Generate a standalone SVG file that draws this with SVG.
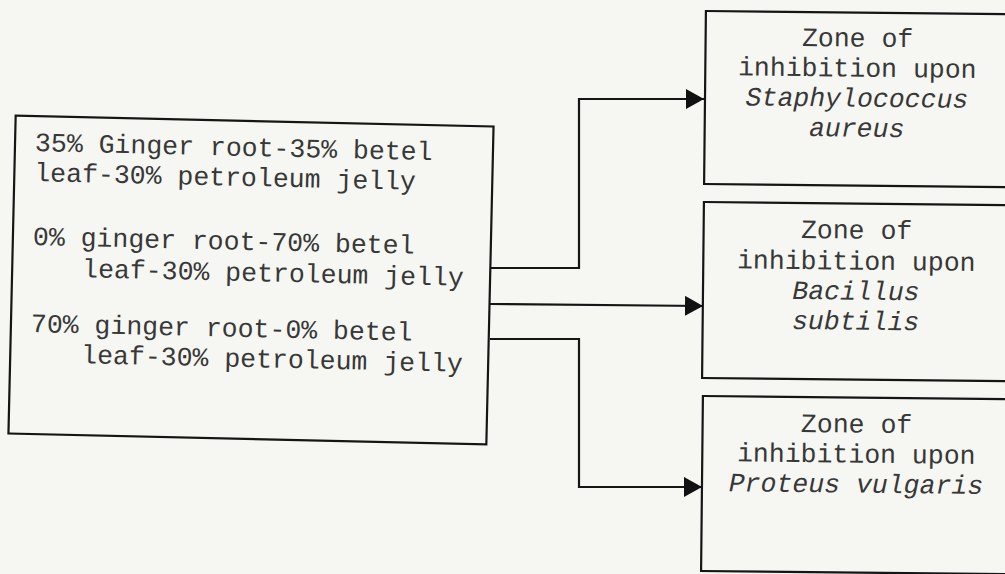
<svg xmlns="http://www.w3.org/2000/svg" width="1005" height="574" viewBox="0 0 1005 574">
  <defs>
    <marker id="arrow" viewBox="0 0 18 20" refX="18" refY="10" markerWidth="18" markerHeight="20" markerUnits="userSpaceOnUse" orient="auto">
      <path d="M0,0 L18,10 L0,20 Z" fill="#111"/>
    </marker>
    <style>
      .box { fill: none; stroke: #151515; stroke-width: 2.2; }
      .conn { fill: none; stroke: #151515; stroke-width: 2.2; }
      .t { font-family: "Liberation Mono", "Courier New", monospace; font-size: 26.5px; fill: #383838; }
      .c { text-anchor: middle; }
      .i { font-style: italic; }
    </style>
  </defs>
  <rect x="0" y="0" width="1005" height="574" fill="#f6f6f2"/>

  <g id="source" transform="rotate(1.3 251 280)">
    <rect class="box" x="12" y="121" width="478" height="318"/>
    <text class="t" x="32" y="156">35% Ginger root-35% betel</text>
    <text class="t" x="32" y="186">leaf-30% petroleum jelly</text>
    <text class="t" x="32" y="250">0% ginger root-70% betel</text>
    <text class="t" x="82" y="281">leaf-30% petroleum jelly</text>
    <text class="t" x="32" y="337">70% ginger root-0% betel</text>
    <text class="t" x="83" y="367">leaf-30% petroleum jelly</text>
  </g>

  <g id="staph" transform="rotate(0.6 705 98)">
    <rect class="box" x="705" y="11" width="320" height="173"/>
    <text class="t c" x="857" y="45">Zone of</text>
    <text class="t c" x="857" y="75">inhibition upon</text>
    <text class="t c i" x="857" y="105">Staphylococcus</text>
    <text class="t c i" x="857" y="135">aureus</text>
  </g>

  <g id="bacillus" transform="rotate(0.6 703 290)">
    <rect class="box" x="703" y="202" width="320" height="176"/>
    <text class="t c" x="856" y="237">Zone of</text>
    <text class="t c" x="856" y="268">inhibition upon</text>
    <text class="t c i" x="856" y="298">Bacillus</text>
    <text class="t c i" x="856" y="328">subtilis</text>
  </g>

  <g id="proteus" transform="rotate(0.6 702 483)">
    <rect class="box" x="702" y="396" width="320" height="175"/>
    <text class="t c" x="856" y="431">Zone of</text>
    <text class="t c" x="856" y="461">inhibition upon</text>
    <text class="t c i" x="856" y="491">Proteus vulgaris</text>
  </g>

  <g id="connectors">
    <path class="conn" d="M490,268 H579 V99 H704" marker-end="url(#arrow)"/>
    <path class="conn" d="M490,304 L703,306" marker-end="url(#arrow)"/>
    <path class="conn" d="M490,339 H579 V487 H702" marker-end="url(#arrow)"/>
  </g>
</svg>
